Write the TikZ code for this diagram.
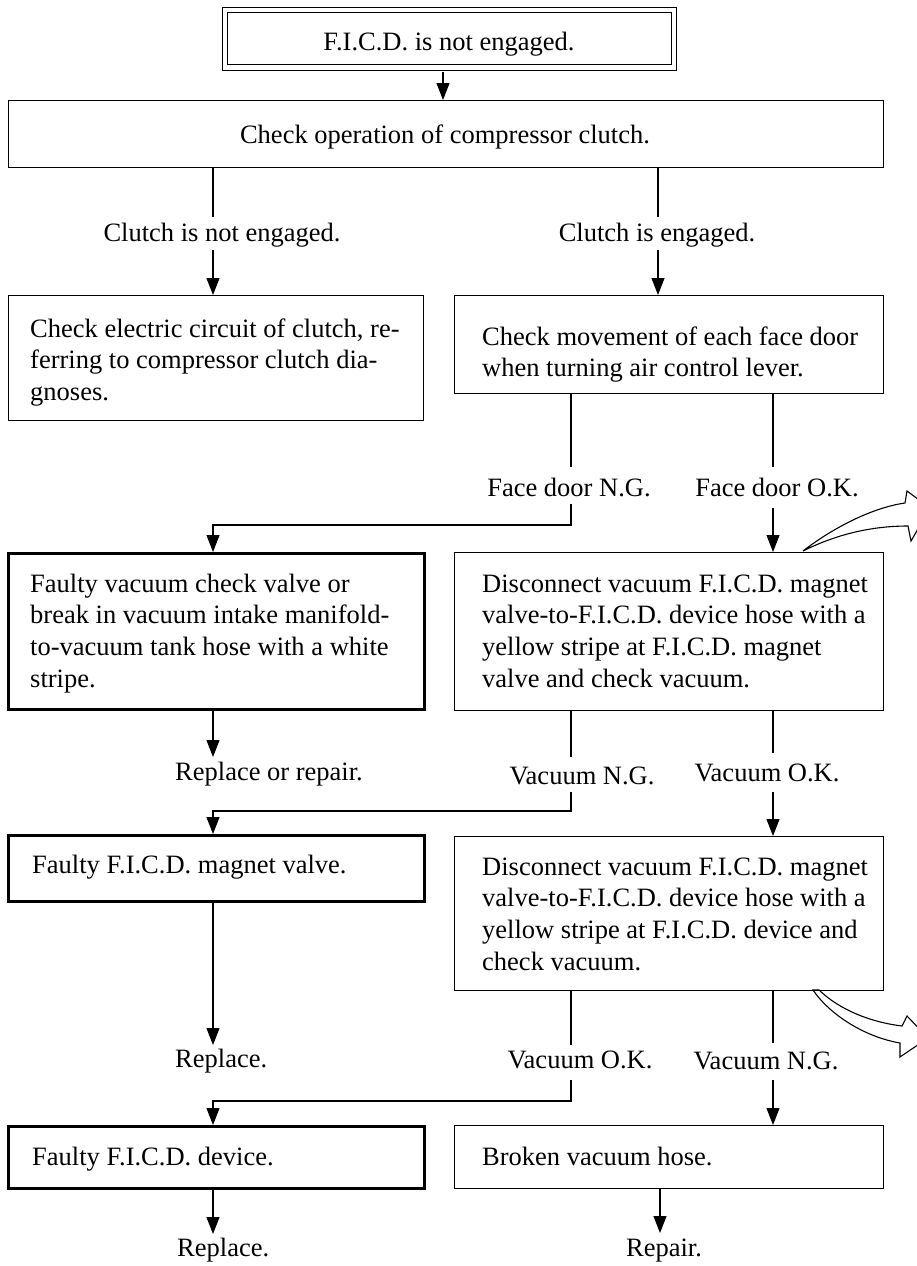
\documentclass[tikz,border=0pt]{standalone}
\usepackage{fontspec}
\setmainfont{Liberation Serif}
\usetikzlibrary{arrows.meta}
\newcommand\tlines[1]{\begin{tabular}[t]{@{}l@{}}#1\end{tabular}}
\begin{document}
\begin{tikzpicture}[x=1pt,y=-1pt,
  every node/.style={font=\fontsize{26.5}{31.8}\selectfont, inner sep=0pt},
  box/.style={draw, line width=1.2pt, anchor=north west},
  thickbox/.style={box, line width=2.6pt},
  txt/.style={anchor=base west},
  lab/.style={anchor=base},
  conn/.style={line width=1.1pt},
  arr/.style={conn, -{Triangle[width=13pt,length=17pt]}},
  hollow/.style={line width=1.1pt, fill=white, line join=miter}]
\fill[white] (0,0) rectangle (916,1266);
\useasboundingbox (0,0) rectangle (916,1266);

% hollow arrows (drawn first)
\draw[hollow] (803,551) .. controls (830,530) and (870,508) .. (905,503)
  -- (907,491) -- (930,508) -- (911,541) -- (908,526)
  .. controls (870,526) and (835,535) .. (803,551) -- cycle;
\draw[hollow] (819,990) .. controls (840,1010) and (870,1022) .. (902,1026)
  -- (907,1016) -- (928,1038) -- (900,1057) -- (900,1043)
  .. controls (865,1037) and (830,1015) .. (813,990) -- cycle;

% boxes
\node[draw, double, double distance=4.3pt, line width=1.1pt,
      minimum width=449pt, minimum height=57.5pt] (top) at (449.5,38.75) {};
\node[lab] (toptx) at (449,50) {F.I.C.D. is not engaged.};

\node[box, minimum width=875pt, minimum height=67pt] (b2) at (8,100) {};
\node[lab] (b2tx) at (445,143) {Check operation of compressor clutch.};

\node[box, minimum width=415pt, minimum height=125pt] (b3) at (8,295) {};
\node[txt] (b3tx) at (30,337) {\tlines{Check electric circuit of clutch, re-\\ferring to compressor clutch dia-\\gnoses.}};

\node[box, minimum width=429pt, minimum height=98pt] (b4) at (454,295) {};
\node[txt] (b4tx) at (482,345) {\tlines{Check movement of each face door\\when turning air control lever.}};

\node[thickbox, minimum width=416pt, minimum height=156pt] (b5) at (7,552) {};
\node[txt] (b5tx) at (30,592) {\tlines{Faulty vacuum check valve or\\break in vacuum intake manifold-\\to-vacuum tank hose with a white\\stripe.}};

\node[box, minimum width=429pt, minimum height=158pt] (b6) at (454,552) {};
\node[txt] (b6tx) at (482,592) {\tlines{Disconnect vacuum F.I.C.D. magnet\\valve-to-F.I.C.D. device hose with a\\yellow stripe at F.I.C.D. magnet\\valve and check vacuum.}};

\node[thickbox, minimum width=416pt, minimum height=66pt] (b7) at (7,834) {};
\node[txt] (b7tx) at (32,873) {Faulty F.I.C.D. magnet valve.};

\node[box, minimum width=429pt, minimum height=154pt] (b8) at (454,836) {};
\node[txt] (b8tx) at (482,875) {\tlines{Disconnect vacuum F.I.C.D. magnet\\valve-to-F.I.C.D. device hose with a\\yellow stripe at F.I.C.D. device and\\check vacuum.}};

\node[thickbox, minimum width=416pt, minimum height=62pt] (b9) at (7,1125) {};
\node[txt] (b9tx) at (32,1165) {Faulty F.I.C.D. device.};

\node[box, minimum width=429pt, minimum height=63pt] (b10) at (454,1125) {};
\node[txt] (b10tx) at (482,1165) {Broken vacuum hose.};

% labels
\node[lab] (l1) at (222,241) {Clutch is not engaged.};
\node[lab] (l2) at (657,241) {Clutch is engaged.};
\node[lab] (l3) at (569,496) {Face door N.G.};
\node[lab] (l4) at (777,496) {Face door O.K.};
\node[txt] (l5) at (175,780) {Replace or repair.};
\node[lab] (l6) at (582,784) {Vacuum N.G.};
\node[lab] (l7) at (767,781) {Vacuum O.K.};
\node[txt] (l8) at (175,1067) {Replace.};
\node[lab] (l9) at (580,1068) {Vacuum O.K.};
\node[lab] (l10) at (766,1069) {Vacuum N.G.};
\node[txt] (l11) at (177,1256) {Replace.};
\node[lab] (l12) at (664,1256) {Repair.};

% connector points
\coordinate (t1) at (443,72);
\coordinate (c1a) at (213,217); \coordinate (c1b) at (213,250);
\coordinate (c2a) at (658,217); \coordinate (c2b) at (658,250);
\coordinate (c3a) at (571,467); \coordinate (c3b) at (571,504); \coordinate (c3c) at (213,525);
\coordinate (c4a) at (773,467); \coordinate (c4b) at (773,508);
\coordinate (c5) at (213,757);
\coordinate (c6a) at (571,757); \coordinate (c6b) at (571,792); \coordinate (c6c) at (213,811);
\coordinate (c7a) at (773,753); \coordinate (c7b) at (773,792);
\coordinate (c8) at (213,1045);
\coordinate (c9a) at (571,1045); \coordinate (c9b) at (571,1080); \coordinate (c9c) at (213,1101);
\coordinate (c10a) at (773,1043); \coordinate (c10b) at (773,1080);
\coordinate (c11) at (213,1234);
\coordinate (c12) at (660,1233);

% connectors
\draw[arr] (t1) -- (b2.north -| t1);
\draw[conn] (b2.south -| c1a) -- (c1a);
\draw[arr] (c1b) -- (b3.north -| c1b);
\draw[conn] (b2.south -| c2a) -- (c2a);
\draw[arr] (c2b) -- (b4.north -| c2b);
\draw[conn] (b4.south -| c3a) -- (c3a);
\draw[arr] (c3b) |- (c3c) -- (b5.north -| c3c);
\draw[conn] (b4.south -| c4a) -- (c4a);
\draw[arr] (c4b) -- (b6.north -| c4b);
\draw[arr] (b5.south -| c5) -- (c5);
\draw[conn] (b6.south -| c6a) -- (c6a);
\draw[arr] (c6b) |- (c6c) -- (b7.north -| c6c);
\draw[conn] (b6.south -| c7a) -- (c7a);
\draw[arr] (c7b) -- (b8.north -| c7b);
\draw[arr] (b7.south -| c8) -- (c8);
\draw[conn] (b8.south -| c9a) -- (c9a);
\draw[arr] (c9b) |- (c9c) -- (b9.north -| c9c);
\draw[conn] (b8.south -| c10a) -- (c10a);
\draw[arr] (c10b) -- (b10.north -| c10b);
\draw[arr] (b9.south -| c11) -- (c11);
\draw[arr] (b10.south -| c12) -- (c12);
\end{tikzpicture}
\end{document}
